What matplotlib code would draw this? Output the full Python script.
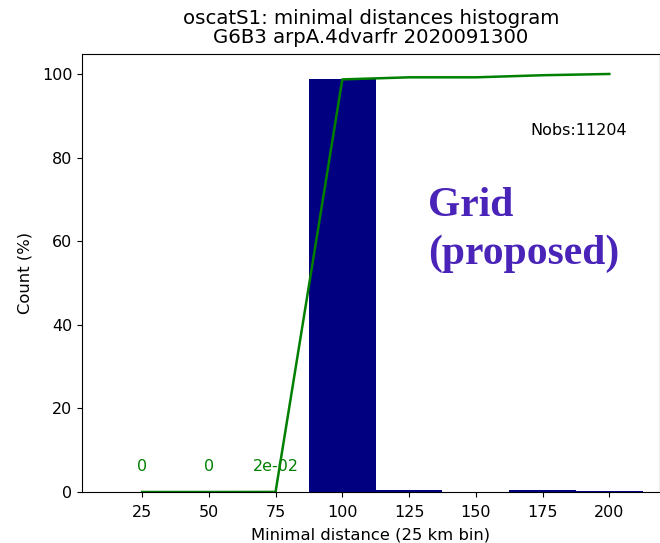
import matplotlib
matplotlib.use("Agg")
import matplotlib.pyplot as plt
import numpy as np

distances = [25, 50, 75, 100, 125, 150, 175, 200]
counts_pct = [0.0, 0.0, 0.02, 98.7, 0.5, 0.0, 0.5, 0.3]
cumul_pct = list(np.cumsum(counts_pct))
low_labels = ["0", "0", "2e-02"]
nobs = 11204

plt.rcParams["font.size"] = 11.5
plt.rcParams["xtick.labelsize"] = 11.5
plt.rcParams["ytick.labelsize"] = 11.5

fig = plt.figure(figsize=(6.6, 5.43), dpi=100)
ax = fig.add_axes([82/660, 1-492/543, (660-82)/660, (492-54)/543])

ax.bar(distances, counts_pct, width=25, color="#000080")
ax.plot(distances, cumul_pct, color="green", linewidth=1.8)
for d, lab in zip(distances[:3], low_labels):
    ax.text(d, 4.3, lab, color="green", ha="center", va="bottom", fontsize=11.5)

ax.set_xlim(2.5, 219)
ax.set_ylim(0, 104.8)
ax.set_xticks(distances)
ax.tick_params(axis="x", pad=6)
ax.set_xlabel("Minimal distance (25 km bin)", fontsize=11.8, labelpad=5)
ax.set_ylabel("Count (%)", fontsize=11.8, labelpad=7)
ax.set_title("oscatS1: minimal distances histogram\nG6B3 arpA.4dvarfr 2020091300",
             fontsize=14.2, linespacing=0.98, pad=8)
ax.text(188.7, 86.4, f"Nobs:{nobs}", ha="center", va="center", fontsize=11.5)

fig.text(428/660, 1-230/543, "Grid\n(proposed)", family="Liberation Serif",
         fontweight="bold", fontsize=30, color="#4a24b8", ha="left", va="center",
         linespacing=1.3)

fig.savefig("out.png", dpi=100)
